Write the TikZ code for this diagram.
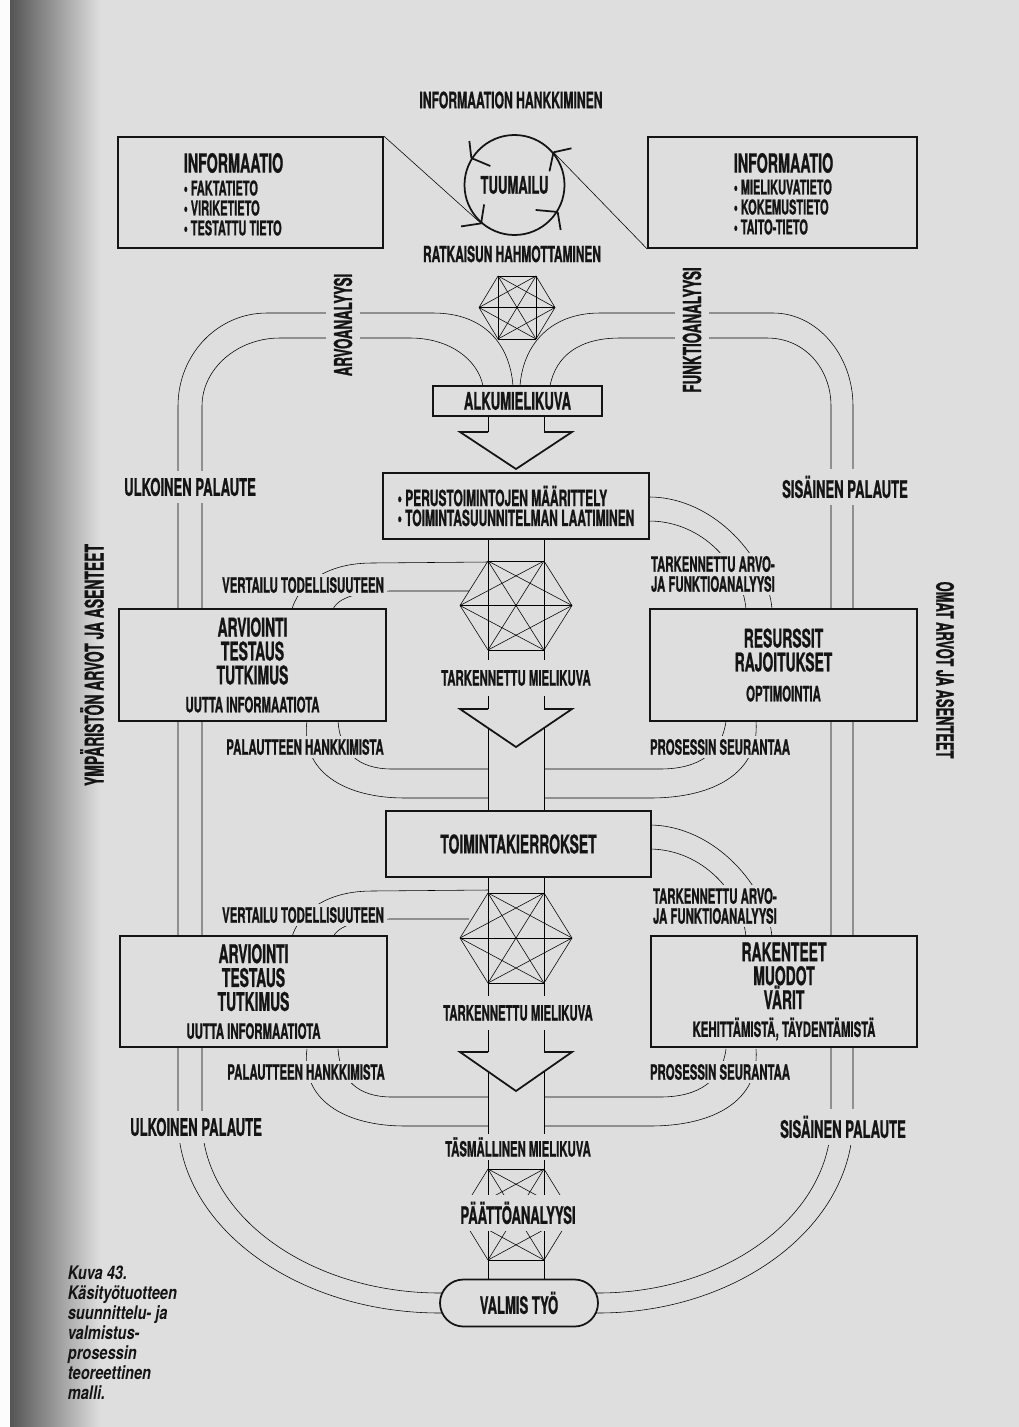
\documentclass[tikz,border=0pt]{standalone}
\usepackage{fontspec}
\setmainfont{TeX Gyre Heros}[FakeStretch=0.54, BoldFeatures={FakeBold=0.8}]
\newfontfamily\capfont{TeX Gyre Heros}[FakeStretch=0.78]
\usetikzlibrary{backgrounds,calc}

\definecolor{paper}{gray}{0.87}
\definecolor{ink}{gray}{0.08}

\newcommand{\txtL}{\fontsize{18.3}{17}\selectfont\bfseries}
\newcommand{\txtM}{\fontsize{17.2}{17}\selectfont\bfseries}
\newcommand{\txtS}{\fontsize{15}{14.2}\selectfont\bfseries}

\tikzset{
  box/.style={draw=ink, fill=paper, line width=1.25pt, inner sep=0pt, align=center, font=\txtL},
  lbl/.style={fill=paper, inner sep=0.8mm, font=\txtS},
  pal/.style={fill=paper, inner xsep=0.8mm, inner ysep=1.8mm, font=\txtM},
}

\newcommand{\hexnet}[5]{%
  \coordinate (#1-1) at ({#2-#4/2},{#3-#5});
  \coordinate (#1-2) at ({#2+#4/2},{#3-#5});
  \coordinate (#1-3) at ({#2+#4},{#3});
  \coordinate (#1-4) at ({#2+#4/2},{#3+#5});
  \coordinate (#1-5) at ({#2-#4/2},{#3+#5});
  \coordinate (#1-6) at ({#2-#4},{#3});
  \foreach\i in {1,...,5}{\pgfmathtruncatemacro\k{\i+1}\foreach\j in {\k,...,6}{\draw (#1-\i) -- (#1-\j);}}}

\newcommand{\chevronhead}[2]{%
  \fill[paper] (460,#1) -- (516,#2) -- (572,#1) -- cycle;
  \draw (488,#1) -- (460,#1) -- (516,#2) -- (572,#1) -- (544,#1);}

\begin{document}
\begin{tikzpicture}[x=0.25mm,y=-0.25mm,line width=1.25pt,color=ink]
    \useasboundingbox (0,0) rectangle (1019,1427);
    \coordinate (sL) at (488,0); \coordinate (sR) at (544,0);

    \node[lbl, font=\fontsize{16}{15}\selectfont\bfseries] (hank) at (511,100) {INFORMAATION HANKKIMINEN};
    \node[box, minimum width=66.25mm, minimum height=27.75mm] (infoL) at (250.5,192.5) {};
    \node[box, minimum width=67.25mm, minimum height=27.75mm] (infoR) at (782.5,192.5) {};
    \node[anchor=west, inner sep=0pt, font=\fontsize{18.8}{17}\selectfont\bfseries] (infoLh) at (183,163) {INFORMAATIO};
    \node[anchor=west, inner sep=0pt, align=left, font=\fontsize{14.5}{14.2}\selectfont\bfseries] (infoLb) at (183,208) {\textbullet\ FAKTATIETO\\\textbullet\ VIRIKETIETO\\\textbullet\ TESTATTU TIETO};
    \node[anchor=west, inner sep=0pt, font=\fontsize{18.8}{17}\selectfont\bfseries] (infoRh) at (733,163) {INFORMAATIO};
    \node[anchor=west, inner sep=0pt, align=left, font=\fontsize{14.5}{14.2}\selectfont\bfseries] (infoRb) at (733,207) {\textbullet\ MIELIKUVATIETO\\\textbullet\ KOKEMUSTIETO\\\textbullet\ TAITO-TIETO};
    \node[circle, draw, minimum size=25mm, inner sep=0pt, font=\txtM] (tuu) at (514.5,185) {TUUMAILU};
    \node[lbl, font=\fontsize{15.7}{15}\selectfont\bfseries] (ratk) at (512,254) {RATKAISUN HAHMOTTAMINEN};
    \node[lbl, rotate=90, inner ysep=2mm, font=\fontsize{17.5}{17}\selectfont\bfseries] (arvo) at (343,325) {ARVOANALYYSI};
    \node[lbl, rotate=90, inner ysep=2mm, font=\fontsize{17.7}{17}\selectfont\bfseries] (funk) at (692,330) {FUNKTIOANALYYSI};

    \node[box, minimum width=42.25mm, minimum height=7.5mm, font=\txtM] (alku) at (517.5,401) {ALKUMIELIKUVA};
    \node[box, minimum width=66.5mm, minimum height=16.5mm, align=left, font=\fontsize{15.8}{14.2}\selectfont\bfseries] (perus) at (516,506) {\textbullet\ PERUSTOIMINTOJEN MÄÄRITTELY\\\textbullet\ TOIMINTASUUNNITELMAN LAATIMINEN};
    \node[pal] (ulk1) at (190,487) {ULKOINEN PALAUTE};
    \node[pal] (sis1) at (845,487) {SISÄINEN PALAUTE};
    \node[rotate=90, font=\fontsize{18.3}{17}\selectfont\bfseries] (ymp) at (92,665) {YMPÄRISTÖN ARVOT JA ASENTEET};
    \node[rotate=-90, font=\fontsize{17}{17}\selectfont\bfseries] (omat) at (945,670) {OMAT ARVOT JA ASENTEET};

    \node[lbl] (vert1) at (303,585) {VERTAILU TODELLISUUTEEN};
    \node[lbl, anchor=west, align=left] (tark1) at (647,574) {TARKENNETTU ARVO-\\JA FUNKTIOANALYYSI};
    \node[box, minimum width=66.75mm, minimum height=28mm] (arv1) at (252.5,665) {ARVIOINTI\\TESTAUS\\TUTKIMUS\\[1mm]{\txtS UUTTA INFORMAATIOTA}};
    \node[box, minimum width=66.75mm, minimum height=28mm] (res1) at (783.5,665) {RESURSSIT\\RAJOITUKSET\\[1.5mm]{\txtS OPTIMOINTIA}};
    \node[lbl, inner ysep=2.6mm] (tmk1) at (516,678) {TARKENNETTU MIELIKUVA};
    \node[lbl] (pal1) at (305,747) {PALAUTTEEN HANKKIMISTA};
    \node[lbl] (pros1) at (720,747) {PROSESSIN SEURANTAA};
    \node[box, minimum width=66.25mm, minimum height=16.5mm] (toimi) at (518.5,844) {TOIMINTAKIERROKSET};

    \node[lbl] (vert2) at (303,915) {VERTAILU TODELLISUUTEEN};
    \node[lbl, anchor=west, align=left] (tark2) at (649,906) {TARKENNETTU ARVO-\\JA FUNKTIOANALYYSI};
    \node[box, minimum width=66.75mm, minimum height=27.75mm] (arv2) at (253.5,991.5) {ARVIOINTI\\TESTAUS\\TUTKIMUS\\[1mm]{\txtS UUTTA INFORMAATIOTA}};
    \node[box, minimum width=66.5mm, minimum height=27.75mm] (rak2) at (784,991.5) {RAKENTEET\\MUODOT\\VÄRIT\\[1mm]{\txtS KEHITTÄMISTÄ, TÄYDENTÄMISTÄ}};
    \node[lbl, inner ysep=2.2mm] (tmk2) at (518,1013) {TARKENNETTU MIELIKUVA};
    \node[lbl] (pal2) at (306,1072) {PALAUTTEEN HANKKIMISTA};
    \node[lbl] (pros2) at (720,1072) {PROSESSIN SEURANTAA};
    \node[pal] (ulk2) at (196,1127) {ULKOINEN PALAUTE};
    \node[pal] (sis2) at (843,1127) {SISÄINEN PALAUTE};
    \node[lbl, inner ysep=0.8mm] (tasm) at (518,1147) {TÄSMÄLLINEN MIELIKUVA};
    \node[lbl, inner ysep=1.6mm, font=\txtM] (paat) at (518,1213) {PÄÄTTÖANALYYSI};
    \node[box, rounded corners=5.87mm, minimum width=39.5mm, minimum height=11.75mm, font=\txtM] (valmis) at (519,1303) {VALMIS TYÖ};

    \node[anchor=north west, align=left, inner sep=0pt, font=\fontsize{13.3}{14.2}\capfont\bfseries\itshape] (kuva) at (67,1265) {Kuva 43.\\Käsityötuotteen\\suunnittelu- ja\\valmistus-\\prosessin\\teoreettinen\\malli.};

    \foreach\a/\px/\py/\qx/\qy in {148/-2/-17/19/8, 40/18/-4/-4/19, 229/3/-19/-20/3, 328/-22/-2/3/18}{
        \draw (tuu.\a) -- ++(\px,\py) (tuu.\a) -- ++(\qx,\qy);}
    \chevronhead{432}{469} \chevronhead{709}{747} \chevronhead{1052}{1091}

    \begin{scope}[on background layer]
        \fill[paper] (0,0) rectangle (1019,1427);
        \fill[white!90!paper] (0,0) rectangle (10,1427);
        \shade[left color=black!62!paper, right color=paper] (10,0) rectangle (100,1427);

        \draw (infoL.north east) -- (tuu.229); \draw (tuu.40) -- (infoR.south west);
        \hexnet{h1}{517}{307.5}{38}{31.5}
        \hexnet{h2}{516}{605.5}{56}{44.5}
        \hexnet{h3}{516}{938}{56}{45}
        \hexnet{h4}{516}{1214.5}{56}{45.5}

        \draw (alku.south -| sL) -- ++(0,16); \draw (alku.south -| sR) -- ++(0,16);
        \draw (perus.south -| sL) -- (h2-1); \draw (perus.south -| sR) -- (h2-2);
        \draw (h2-5) -- (toimi.north -| sL); \draw (h2-4) -- (toimi.north -| sR);
        \draw (toimi.south -| sL) -- (h3-1); \draw (toimi.south -| sR) -- (h3-2);
        \draw (h3-5) -- (h4-1); \draw (h3-4) -- (h4-2);
        \draw (h4-5) -- (valmis.north -| sL); \draw (h4-4) -- (valmis.north -| sR);

        \draw (513,386) .. controls (510,345) and (485,313) .. (433,313) -- (267,313) .. controls (217,313) and (178,355) .. (178,406)
            -- (178,1120) .. controls (178,1226) and (296,1313) .. (440,1313) -- (455,1313);
        \draw (483,386) .. controls (478,360) and (450,338) .. (410,338) -- (280,338) .. controls (237,338) and (202,369) .. (202,406)
            -- (202,1120) .. controls (202,1215) and (309,1293) .. (440,1293) -- (455,1293);
        \draw (520,386) .. controls (523,345) and (550,313) .. (600,313) -- (773,313) .. controls (817,313) and (853,355) .. (853,406)
            -- (853,1120) .. controls (853,1226) and (738,1313) .. (598,1313) -- (583,1313);
        \draw (550,386) .. controls (556,355) and (580,338) .. (620,338) -- (767,338) .. controls (805,338) and (831,369) .. (831,406)
            -- (831,1120) .. controls (831,1215) and (726,1293) .. (598,1293) -- (583,1293);

        \foreach\dy in {0,328}{
        \begin{scope}[shift={(0,\dy)}]
            \draw (488,562) -- (372,563) .. controls (322,563) and (298,588) .. (292,609);
            \draw (469,591) -- (392,591) .. controls (358,591) and (338,598) .. (333,609);
            \draw (338,721) .. controls (340,752) and (358,769) .. (392,769) -- (488,769);
            \draw (307,721) .. controls (300,772) and (345,798) .. (405,798) -- (488,798);
            \draw (649,497) .. controls (715,497) and (768,560) .. (772,609);
            \draw (649,521) .. controls (702,521) and (742,565) .. (746,609);
            \draw (726,721) .. controls (722,752) and (700,769) .. (660,769) -- (544,769);
            \draw (756,721) .. controls (760,772) and (715,798) .. (650,798) -- (544,798);
        \end{scope}}
    \end{scope}
\end{tikzpicture}
\end{document}
